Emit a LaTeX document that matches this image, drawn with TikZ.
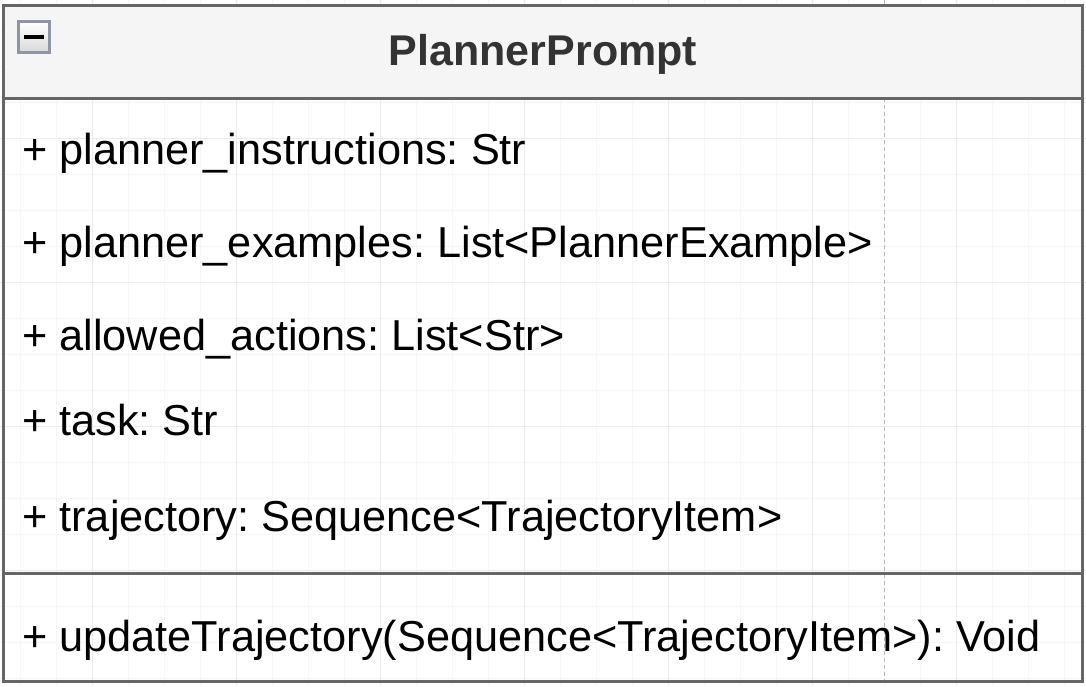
\documentclass[tikz,border=0pt]{standalone}
\usepackage{fontspec}
\setmainfont{Liberation Sans}
\frenchspacing
\begin{document}
\begin{tikzpicture}[x=1pt,y=-1pt,
  gridminor/.style={draw=black!3.5,line width=1pt},
  gridmajor/.style={draw=black!8,line width=1pt},
  pagebreak/.style={draw=black!28,line width=1pt,dash pattern=on 4pt off 3pt},
  classborder/.style={draw=black!60,line width=3pt},
  header/.style={fill=black!4},
  member/.style={anchor=base west,inner sep=0pt,font=\fontsize{43.3}{50}\selectfont,text=black},
  classtitle/.style={anchor=base,inner sep=0pt,font=\fontsize{43}{50}\selectfont\bfseries,text=black!80},
]
\useasboundingbox (0,0) rectangle (1086,686);
\fill[white] (0,0) rectangle (1086,686);
% background grid
\foreach \gx in {20,56,...,1086} \draw[gridminor] (\gx,0) -- (\gx,686);
\foreach \gy in {30,66,...,686} \draw[gridminor] (0,\gy) -- (1086,\gy);
\foreach \gx in {92,236,...,1086} \draw[gridmajor] (\gx,0) -- (\gx,686);
\foreach \gy in {138,282,...,686} \draw[gridmajor] (0,\gy) -- (1086,\gy);
% page break guide
\draw[pagebreak] (884,0) -- (884,686);
% class box
\coordinate (tl) at (3.5,5);
\coordinate (br) at (1082,681);
\fill[header] (3.5,5) rectangle (1082,98);
\draw[classborder] (tl) rectangle (br);
\draw[classborder] (3.5,98) -- (1082,98);
\draw[classborder] (3.5,573.5) -- (1082,573.5);
% collapse button
\shade[top color=white,bottom color=black!15] (18.5,21.5) rectangle (49.5,52.5);
\draw[draw={rgb,255:red,140;green,150;blue,168},line width=3pt] (18.5,21.5) rectangle (49.5,52.5);
\fill[black] (24,34.5) rectangle (43.5,38.5);
% texts
\node[classtitle] (title) at (543,65) {PlannerPrompt};
\node[member] (a1) at (22,164) {+ planner\_instructions: Str};
\node[member] (a2) at (22,257) {+ planner\_examples: List<PlannerExample>};
\node[member] (a3) at (22,350) {+ allowed\_actions: List<Str>};
\node[member] (a4) at (22,435) {+ task: Str};
\node[member] (a5) at (22,531) {+ trajectory: Sequence<TrajectoryItem>};
\node[member] (m1) at (22,651) {+ updateTrajectory(Sequence<TrajectoryItem>): Void};
\end{tikzpicture}
\end{document}
